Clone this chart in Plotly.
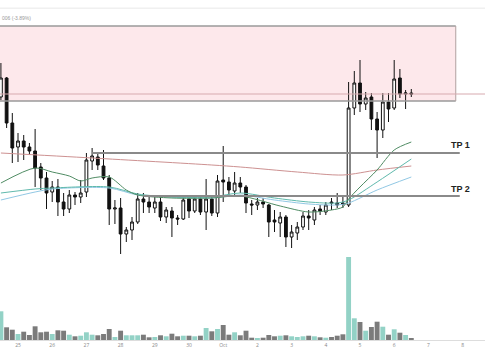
import plotly.graph_objects as go

# 4-hour candles, Sep 24 12:00 -> Oct 6 12:00 (index 0..72)
opens  = [243,262,217,193,199,193,189,173,162,148,153,138,131,145,143,148,179,183,174,162,
          131,132,106,110,118,141,138,132,138,123,129,122,121,141,129,141,128,141,127,160,
          158,149,157,153,136,135,138,135,120,117,123,103,107,113,124,120,131,128,138,137,
          137,135,232,257,236,243,221,210,238,232,262,246,247]
closes = [262,217,192,199,193,189,172,162,147,153,138,131,145,143,147,180,184,175,162,131,
          132,106,110,118,141,138,133,138,123,130,122,121,140,129,141,128,141,127,159,158,
          150,157,153,137,135,138,136,118,118,123,103,108,113,124,122,130,129,135,137,135,
          136,232,257,236,242,221,210,238,231,261,246,247,246]
highs  = [277,263,227,207,205,197,211,177,168,159,161,147,150,148,160,187,192,187,190,165,
          140,142,113,123,147,147,145,145,145,133,133,125,145,143,145,145,161,145,165,194,
          163,168,163,155,140,142,142,136,130,128,125,115,118,128,130,133,135,138,142,147,
          145,258,269,280,248,247,228,247,247,280,271,250,251]
lows   = [240,212,177,178,180,185,153,150,131,138,124,124,127,135,137,143,170,170,160,115,
          116,86,98,100,116,127,127,127,119,117,103,115,120,122,127,125,110,124,123,138,
          145,145,147,127,125,130,132,103,108,103,93,92,100,110,110,115,125,125,130,132,
          132,133,225,228,230,210,182,202,218,230,242,231,243]
volumes = [28.7,12.7,10.3,6,8.3,5,13.7,7.7,8.3,6,9.7,9.3,5.3,3.7,4.3,7.7,5.3,4.7,6,11,
           3,9.3,4.7,4.7,4.7,5.3,2.7,3,4.7,3.7,6.3,3.7,4.3,4.3,3.7,4.3,12,8.7,11,15,
           5.3,7.7,4.7,9.3,2.3,1.7,2.3,5,3.7,4.3,4.7,3.7,3,3.7,4.3,3.7,2.7,2.3,3,4.3,
           5.7,83,21.7,18,9.3,13,18.3,13.3,5.3,10.7,7.3,5,1.7]

# moving averages (read at sampled candles)
ma_fast_idx = [0,6,9,12,14,16,19,22,24,30,37,42,49,54,58,60,61,63,66,69,72]
ma_fast_val = [157,172,168,164,159,162,163,150,145,142,142,144,134,128,130,133,141,153,170,190,198]
ma_mid_idx = [0,6,9,19,24,30,37,42,48,54,59,61,66,72]
ma_mid_val = [147,151,152,153,146,143,143,147,142,138,137,140,158,181]
ma_slow_idx = [0,6,9,19,24,30,37,42,48,54,59,61,66,72]
ma_slow_val = [140,148,151,152,145,143,142,145,140,136,135,137,150,163]
ma_long_idx = [0,16,37,42,52,60,66,72]
ma_long_val = [187,182,175,173,168,165,170,174]

tick_idx = [3,9,15,21,27,33,39,45,51,57,63,69,75,81]
tick_text = ["25","26","27","28","29","30","Oct","2","3","4","5","6","7","8"]

zone_low, zone_high = 239, 314
last_price = 246
tp1, tp1_start = 187, 16
tp2, tp2_start = 144, 25

idx = list(range(len(opens)))
vol_colors = ["#93d2c6" if c >= o else "#7b7b7b" for o, c in zip(opens, closes)]

fig = go.Figure()
fig.add_trace(go.Bar(x=idx, y=volumes, yaxis="y2", marker_color=vol_colors,
                     marker_line_width=0, width=0.86, showlegend=False))
for xs, ys, col in [(ma_long_idx, ma_long_val, "rgb(205,145,145)"),
                    (ma_slow_idx, ma_slow_val, "rgb(145,200,228)"),
                    (ma_mid_idx, ma_mid_val, "rgb(95,185,172)"),
                    (ma_fast_idx, ma_fast_val, "rgb(80,140,100)")]:
    fig.add_trace(go.Scatter(x=xs, y=ys, mode="lines", line=dict(color=col, width=1, shape="spline", smoothing=0.8),
                             showlegend=False, hoverinfo="skip"))
fig.add_trace(go.Candlestick(x=idx, open=opens, high=highs, low=lows, close=closes,
                             increasing=dict(fillcolor="white", line=dict(color="#111", width=1)),
                             decreasing=dict(fillcolor="#111", line=dict(color="#111", width=1)),
                             whiskerwidth=0, showlegend=False))

shapes = [
    dict(type="rect", xref="x", yref="y", x0=-5, x1=79.8, y0=zone_low, y1=zone_high,
         fillcolor="rgba(252,222,226,0.7)", line=dict(width=0), layer="below"),
    dict(type="line", xref="x", yref="y", x0=-5, x1=79.8, y0=zone_high, y1=zone_high, line=dict(color="#9a9a9a", width=1.5)),
    dict(type="line", xref="x", yref="y", x0=-5, x1=79.8, y0=zone_low, y1=zone_low, line=dict(color="#9a9a9a", width=1.5)),
    dict(type="line", xref="x", yref="y", x0=79.8, x1=79.8, y0=zone_low, y1=zone_high, line=dict(color="#b0a0a0", width=1)),
    dict(type="line", xref="paper", yref="y", x0=0, x1=1, y0=last_price, y1=last_price, line=dict(color="rgb(215,170,175)", width=1)),
    dict(type="line", xref="x", yref="y", x0=tp1_start, x1=80.5, y0=tp1, y1=tp1, line=dict(color="#8a8a8a", width=2)),
    dict(type="line", xref="x", yref="y", x0=tp2_start, x1=80.5, y0=tp2, y1=tp2, line=dict(color="#8a8a8a", width=2)),
    dict(type="line", xref="paper", yref="paper", x0=0, x1=1, y0=0.976, y1=0.976, line=dict(color="#e8e8e8", width=1)),
]

annotations = [
    dict(xref="paper", yref="y", x=0.973, y=tp1 + 8, text="<b>TP 1</b>", showarrow=False,
         font=dict(size=9, color="#222", family="Arial")),
    dict(xref="paper", yref="y", x=0.973, y=tp2 + 7, text="<b>TP 2</b>", showarrow=False,
         font=dict(size=9, color="#222", family="Arial")),
    dict(xref="paper", yref="paper", x=0, y=0.962, xanchor="left", text="006 (-3.89%)", showarrow=False,
         font=dict(size=5, color="#999", family="Arial")),
]

fig.update_layout(
    width=485, height=360, margin=dict(l=0, r=0, t=0, b=20),
    paper_bgcolor="white", plot_bgcolor="white",
    shapes=shapes, annotations=annotations, bargap=0.1,
    xaxis=dict(range=[-0.16, 84.93], rangeslider=dict(visible=False), showgrid=False, zeroline=False,
               tickmode="array", tickvals=tick_idx, ticktext=tick_text, ticks="",
               tickfont=dict(size=5, color="#888"), showline=True, linecolor="#ddd", linewidth=1),
    yaxis=dict(range=[0, 340], visible=False, showgrid=False, fixedrange=True),
    yaxis2=dict(range=[0, 340], overlaying="y", visible=False, showgrid=False),
)

fig.write_html("out.html")
